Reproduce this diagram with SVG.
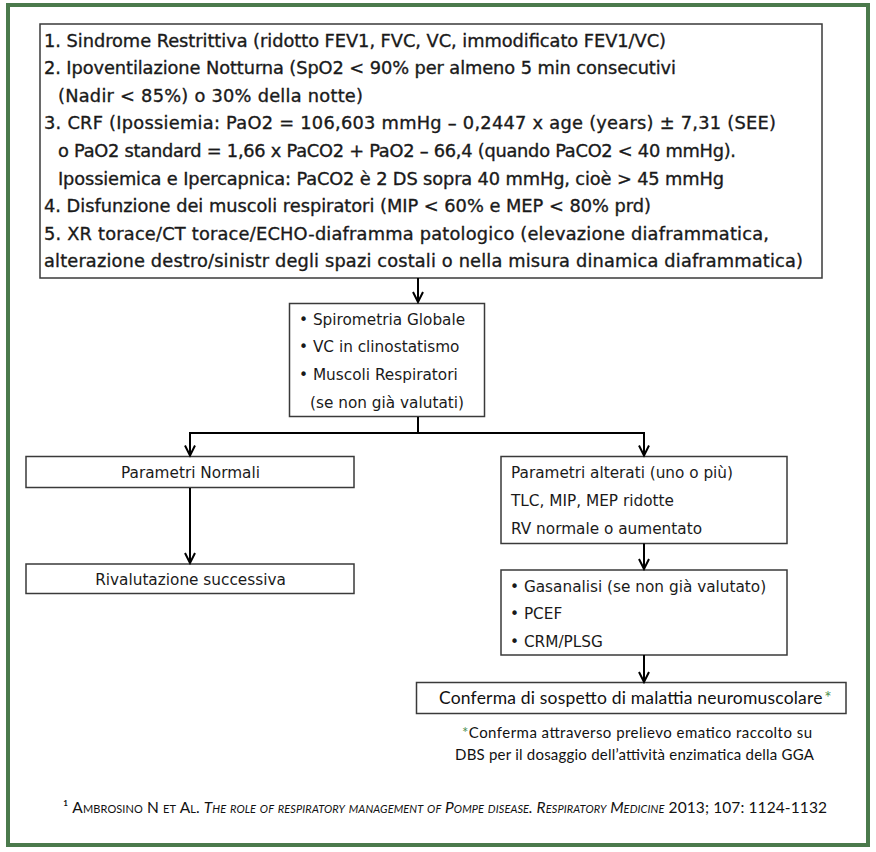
<svg xmlns="http://www.w3.org/2000/svg" width="876" height="852" viewBox="0 0 876 852">
<defs>
<style>
.frame{fill:none;stroke:#4b7a4c;stroke-width:4}
.box{fill:#fff;stroke:#3a3a3a;stroke-width:1.5}
.conn{fill:none;stroke:#000;stroke-width:2}
.t1{font-family:"DejaVu Sans",Verdana,sans-serif;font-size:17.8px;fill:#1a1a1a;stroke:#1a1a1a;stroke-width:0.35px}
.t2{font-family:"DejaVu Sans",Tahoma,sans-serif;font-size:15.3px;fill:#1a1a1a}
.t3{font-family:Lato,"Liberation Sans",sans-serif;font-size:17.5px;fill:#111}
.t4{font-family:Lato,"Liberation Sans",sans-serif;font-size:15px;fill:#111}
.t5{font-family:Lato,"Liberation Sans",sans-serif;font-size:15.5px;fill:#111}
.green{fill:#4e8f50}
</style>
<marker id="arr" markerUnits="userSpaceOnUse" markerWidth="14" markerHeight="14" viewBox="-12 -7 14 14" refX="0" refY="0" orient="auto">
<path d="M-10,-5 L0,0 L-10,5" fill="none" stroke="#000" stroke-width="2"/>
</marker>
</defs>
<rect width="876" height="852" fill="#fff"/>
<rect class="frame" x="8" y="5" width="860" height="840"/>

<g id="criteria">
<rect class="box" x="40" y="24" width="782" height="254"/>
<text class="t1" x="44" y="46.5" textLength="622" lengthAdjust="spacing">1. Sindrome Restrittiva (ridotto FEV1, FVC, VC, immodificato FEV1/VC)</text>
<text class="t1" x="44" y="74.1" textLength="632" lengthAdjust="spacing">2. Ipoventilazione Notturna (SpO2 &lt; 90% per almeno 5 min consecutivi</text>
<text class="t1" x="58" y="101.7" textLength="305" lengthAdjust="spacing">(Nadir &lt; 85%) o 30% della notte)</text>
<text class="t1" x="44" y="129.3" textLength="732" lengthAdjust="spacing">3. CRF (Ipossiemia: PaO2 = 106,603 mmHg – 0,2447 x age (years) ± 7,31 (SEE)</text>
<text class="t1" x="58" y="156.9" textLength="678" lengthAdjust="spacing">o PaO2 standard = 1,66 x PaCO2 + PaO2 – 66,4 (quando PaCO2 &lt; 40 mmHg).</text>
<text class="t1" x="58" y="184.5" textLength="666" lengthAdjust="spacing">Ipossiemica e Ipercapnica: PaCO2 è 2 DS sopra 40 mmHg, cioè &gt; 45 mmHg</text>
<text class="t1" x="44" y="212.1" textLength="607" lengthAdjust="spacing">4. Disfunzione dei muscoli respiratori (MIP &lt; 60% e MEP &lt; 80% prd)</text>
<text class="t1" x="44" y="239.7" textLength="725" lengthAdjust="spacing">5. XR torace/CT torace/ECHO-diaframma patologico (elevazione diaframmatica,</text>
<text class="t1" x="44" y="267.3" textLength="759" lengthAdjust="spacing">alterazione destro/sinistr degli spazi costali o nella misura dinamica diaframmatica)</text>
</g>

<g id="tests">
<rect class="box" x="289.5" y="303.5" width="195" height="113"/>
<text class="t2" x="299" y="325">• Spirometria Globale</text>
<text class="t2" x="299" y="352">• VC in clinostatismo</text>
<text class="t2" x="299" y="380">• Muscoli Respiratori</text>
<text class="t2" x="310" y="407.5">(se non già valutati)</text>
</g>

<g id="normal">
<rect class="box" x="26" y="456.5" width="328" height="31"/>
<text class="t2" x="190.5" y="478.3" text-anchor="middle">Parametri Normali</text>
</g>

<g id="reassess">
<rect class="box" x="26" y="564" width="328" height="29.5"/>
<text class="t2" x="190.5" y="585" text-anchor="middle">Rivalutazione successiva</text>
</g>

<g id="altered">
<rect class="box" x="501" y="456.5" width="286" height="87"/>
<text class="t2" x="511" y="478.3" textLength="222" lengthAdjust="spacing">Parametri alterati (uno o più)</text>
<text class="t2" x="511" y="506">TLC, MIP, MEP ridotte</text>
<text class="t2" x="511" y="534">RV normale o aumentato</text>
</g>

<g id="gas">
<rect class="box" x="501" y="570" width="286" height="85"/>
<text class="t2" x="510" y="591.7">• Gasanalisi (se non già valutato)</text>
<text class="t2" x="510" y="619.3">• PCEF</text>
<text class="t2" x="510" y="647.3">• CRM/PLSG</text>
</g>

<g id="confirm">
<rect class="box" x="416.5" y="682.5" width="429.5" height="31"/>
<text class="t3" x="439" y="704.3"><tspan textLength="383" lengthAdjust="spacing">Conferma di sospetto di malattia neuromuscolare</tspan><tspan class="green" dx="2">*</tspan></text>
</g>

<g id="notes">
<text class="t4" x="462" y="738.3" textLength="350" lengthAdjust="spacing"><tspan class="green">*</tspan>Conferma attraverso prelievo ematico raccolto su</text>
<text class="t4" x="455" y="760" textLength="359" lengthAdjust="spacing">DBS per il dosaggio dell’attività enzimatica della GGA</text>
<text class="t5" x="63" y="813.3" textLength="764" lengthAdjust="spacing"><tspan>¹ </tspan><tspan font-variant="small-caps">Ambrosino N et Al. </tspan><tspan font-variant="small-caps" font-style="italic">The role of respiratory management of Pompe disease. Respiratory Medicine</tspan><tspan> 2013; 107: 1124-1132</tspan></text>
</g>

<g id="connectors">
<path class="conn" d="M418,278 V302" marker-end="url(#arr)"/>
<path class="conn" d="M418,417 V433 H190 V455.5" marker-end="url(#arr)"/>
<path class="conn" d="M418,433 H644 V455.5" marker-end="url(#arr)"/>
<path class="conn" d="M190,488 V563" marker-end="url(#arr)"/>
<path class="conn" d="M644,543.5 V569" marker-end="url(#arr)"/>
<path class="conn" d="M644,655 V682" marker-end="url(#arr)"/>
</g>
</svg>
